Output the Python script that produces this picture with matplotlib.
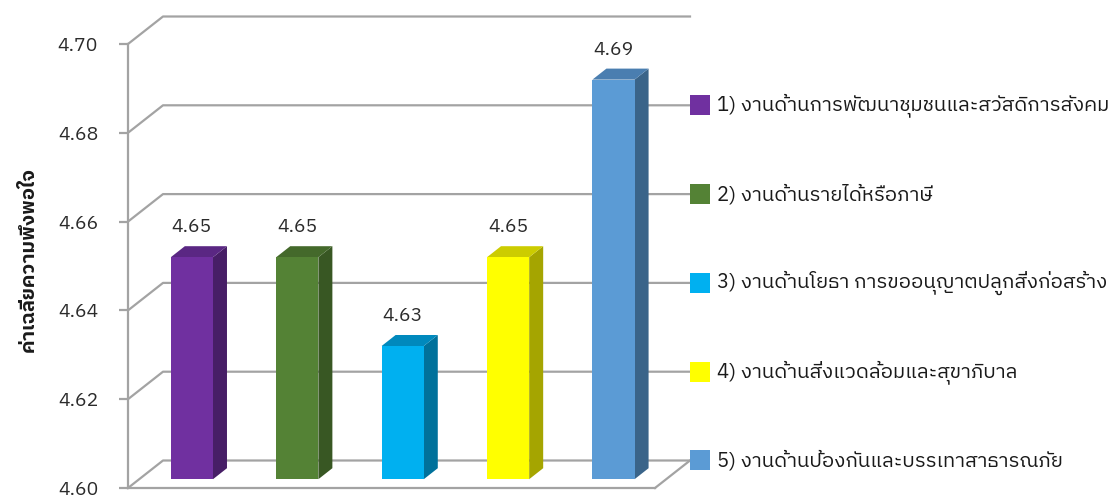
import matplotlib
matplotlib.use("Agg")
import matplotlib.pyplot as plt
from matplotlib import font_manager
from matplotlib.ft2font import FT2Font
from matplotlib.transforms import ScaledTranslation

categories = [
    "1) งานด้านการพัฒนาชุมชนและสวัสดิการสังคม",
    "2) งานด้านรายได้หรือภาษี",
    "3) งานด้านโยธา การขออนุญาตปลูกสิ่งก่อสร้าง",
    "4) งานด้านสิ่งแวดล้อมและสุขาภิบาล",
    "5) งานด้านป้องกันและบรรเทาสาธารณภัย",
]
scores = [4.65, 4.65, 4.63, 4.65, 4.69]
y_ticks = [4.60, 4.62, 4.64, 4.66, 4.68, 4.70]
y_title = "ค่าเฉลี่ยความพึงพอใจ"

front_colors = ["#7030a0", "#548235", "#00b0f0", "#ffff00", "#5b9bd5"]
side_colors = ["#471e66", "#385723", "#00719b", "#a5a500", "#3a6489"]
top_colors = ["#5a2783", "#44692b", "#0089bd", "#cccc00", "#4a7eb0"]


def find_thai_family():
    found = []
    for f in font_manager.fontManager.ttflist:
        try:
            if 0x0E07 in FT2Font(f.fname).get_charmap():
                found.append(f.name)
        except Exception:
            pass
    for name in found:
        if "Sans" in name and "Looped" not in name:
            return name
    return found[0] if found else "DejaVu Sans"


thai = find_thai_family()
plt.rcParams["font.family"] = [thai, "DejaVu Sans"]

fig = plt.figure(figsize=(11.16, 4.98), dpi=100)
ax = fig.add_axes([128 / 1116, 10 / 498, 527 / 1116, 444 / 498])
ax.set_xlim(-0.5, 4.5)
ax.set_ylim(4.60, 4.70)

grid_col = "#a3a3a3"
text_col = "#2b2b2b"

# depth of the box in pixels (x right, y up)
DEPTH = (35, 27.5)


def back(x, y, f):
    px, py = ax.transData.transform((x, y))
    return ax.transData.inverted().transform((px + f * DEPTH[0], py + f * DEPTH[1]))


for s in ["top", "right"]:
    ax.spines[s].set_visible(False)
for s in ["left", "bottom"]:
    ax.spines[s].set_color(grid_col)
    ax.spines[s].set_linewidth(1.6)
ax.set_xticks([])
ax.set_yticks(y_ticks)
ax.set_yticklabels([f"{t:.2f}" for t in y_ticks])
ax.tick_params(axis="y", length=6.5, width=1.6, color=grid_col,
               pad=15, labelsize=14, labelcolor=text_col)
ax.patch.set_alpha(0)

# side wall diagonals and back wall gridlines
for t in y_ticks:
    p0 = back(-0.5, t, 0)
    p1 = back(-0.5, t, 1)
    p2 = back(4.5, t, 1)
    ax.plot([p0[0], p1[0], p2[0]], [p0[1], p1[1], p2[1]],
            color=grid_col, lw=1.6, clip_on=False, zorder=1)
q0 = back(4.5, 4.60, 0)
q1 = back(4.5, 4.60, 1)
ax.plot([q0[0], q1[0]], [q0[1], q1[1]], color=grid_col, lw=1.6,
        clip_on=False, zorder=1)

# 3D bars
w = 0.4
f0, f1 = 0.32, 0.72
for i, v in enumerate(scores):
    x0, x1 = i - w / 2, i + w / 2
    front = [back(x0, 4.60, f0), back(x1, 4.60, f0), back(x1, v, f0), back(x0, v, f0)]
    side = [back(x1, 4.60, f0), back(x1, 4.60, f1), back(x1, v, f1), back(x1, v, f0)]
    top = [back(x0, v, f0), back(x1, v, f0), back(x1, v, f1), back(x0, v, f1)]
    ax.add_patch(plt.Polygon(side, closed=True, fc=side_colors[i], ec="none",
                             clip_on=False, zorder=3))
    ax.add_patch(plt.Polygon(top, closed=True, fc=top_colors[i], ec="none",
                             clip_on=False, zorder=3))
    ax.add_patch(plt.Polygon(front, closed=True, fc=front_colors[i], ec="none",
                             clip_on=False, zorder=4))
    ax.annotate(f"{v:.2f}", xy=back(i, v, f0), xytext=(0, 18),
                textcoords="offset points", ha="center", va="baseline",
                fontsize=14, color=text_col, annotation_clip=False)

# legend placed at the ends of the back gridlines
legend_levels = y_ticks[-2::-1]
for i, (lab, lvl) in enumerate(zip(categories, legend_levels)):
    anchor = back(4.5, lvl, 1)
    ax.plot(anchor[0], anchor[1], marker="s", ms=13.7, mew=0,
            color=front_colors[i], clip_on=False, zorder=5,
            transform=ax.transData + ScaledTranslation(0.095, 0, fig.dpi_scale_trans))
    ax.annotate(lab, xy=anchor, xytext=(19.5, 0), textcoords="offset points",
                ha="left", va="center", fontsize=14.7, color="#1a1a1a",
                annotation_clip=False)

fig.text(28 / 1116, 1 - 260 / 498, y_title, rotation=90, ha="center",
         va="center", fontsize=14.5, fontweight="bold", color="#1a1a1a")

fig.savefig("out.png", dpi=100)
